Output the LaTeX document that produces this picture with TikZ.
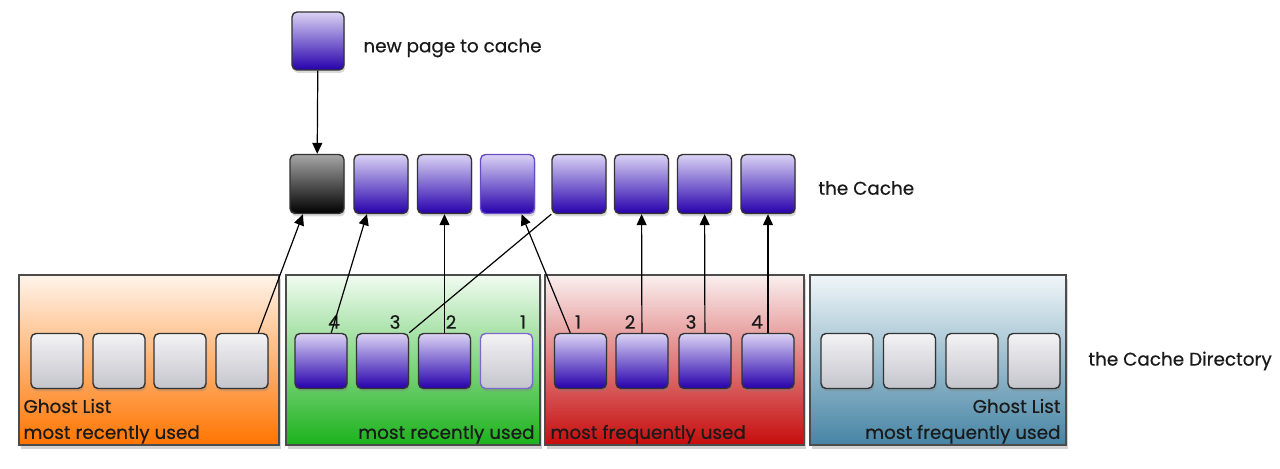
\documentclass[tikz,border=0pt]{standalone}
\usepackage{fontspec}
\setmainfont{Poppins}[FakeBold=0.5]
\usetikzlibrary{arrows.meta}
\usetikzlibrary{shadows}

\definecolor{pagetop}{HTML}{DAD3F4}
\definecolor{pagebot}{HTML}{2600AC}
\definecolor{ghosttop}{HTML}{F3F3F5}
\definecolor{ghostbot}{HTML}{C4C4CC}
\definecolor{orangetop}{HTML}{FFF4EA}
\definecolor{orangebot}{HTML}{FF7400}
\definecolor{greentop}{HTML}{F1FBF1}
\definecolor{greenbot}{HTML}{1CB21C}
\definecolor{redtop}{HTML}{FAEFEF}
\definecolor{redbot}{HTML}{C60C0C}
\definecolor{bluetop}{HTML}{F0F6F9}
\definecolor{bluebot}{HTML}{4684A4}
\definecolor{inkgray}{HTML}{1A1A1A}

\tikzset{
  cachepage/.style={draw=black!80, line width=0.7pt, rounded corners=2.5pt,
    minimum width=27pt, minimum height=29.5pt, inner sep=0pt,
    top color=pagetop, bottom color=pagebot,
    drop shadow={opacity=0.3, shadow xshift=0.6pt, shadow yshift=-1.5pt}},
  listpage/.style={cachepage, minimum width=26pt, minimum height=27.5pt},
  ghostpage/.style={listpage, top color=ghosttop, bottom color=ghostbot},
  listpanel/.style={draw=black!70, line width=0.9pt, inner sep=0pt,
    minimum width=129pt, minimum height=85pt,
    drop shadow={opacity=0.35, shadow xshift=1pt, shadow yshift=-2pt}},
  link/.style={line width=0.6pt, -{Triangle[length=5.5pt,width=5pt]}},
  listtext/.style={inner sep=0pt, text=inkgray},
}

\begin{document}
\begin{tikzpicture}[x=0.5pt,y=-0.5pt,font=\fontsize{9.2}{11}\selectfont]
\useasboundingbox (0,0) rectangle (1280,469);

    % Cache directory panels:
    \node [listpanel, minimum width=130pt, top color=orangetop, bottom color=orangebot] (ghostmru) at (149,360) {};
    \node [listpanel, minimum width=127pt, top color=greentop, bottom color=greenbot] (mru) at (413,360) {};
    \node [listpanel, minimum width=129.5pt, top color=redtop, bottom color=redbot] (mfu) at (674.5,360) {};
    \node [listpanel, minimum width=128pt, top color=bluetop, bottom color=bluebot] (ghostmfu) at (938,360) {};

    % Pages in the lists:
    \node [ghostpage] (gr1) at (57,361) {};
    \node [ghostpage] (gr2) at (119,361) {};
    \node [ghostpage] (gr3) at (180,361) {};
    \node [ghostpage] (gr4) at (242,361) {};
    \node [listpage] (t1) at (321,361) {};
    \node [listpage] (t2) at (382.5,361) {};
    \node [listpage] (t3) at (444.5,361) {};
    \node [ghostpage, draw=pagebot!60] (t4) at (506.5,361) {};
    \node [listpage] (f1) at (580.5,361) {};
    \node [listpage] (f2) at (642,361) {};
    \node [listpage] (f3) at (705,361) {};
    \node [listpage] (f4) at (768,361) {};
    \node [ghostpage] (gf1) at (847,361) {};
    \node [ghostpage] (gf2) at (909.5,361) {};
    \node [ghostpage] (gf3) at (972,361) {};
    \node [ghostpage] (gf4) at (1034,361) {};

    % The cache:
    \node [cachepage, top color=black!35, bottom color=black] (c1) at (317,184) {};
    \node [cachepage] (c2) at (381,184) {};
    \node [cachepage] (c3) at (444.5,184) {};
    \node [cachepage, draw=pagebot!70] (c4) at (507.5,184) {};
    \node [cachepage] (c5) at (579,184) {};
    \node [cachepage] (c6) at (641.5,184) {};
    \node [cachepage] (c7) at (704.5,184) {};
    \node [cachepage] (c8) at (768,184) {};

    % New page:
    \node [cachepage, minimum width=26pt, minimum height=29pt] (newpage) at (318,41) {};

    % Labels:
    \node [listtext, anchor=west] (newlabel) at (363,48) {new page to cache};
    \node [listtext, anchor=west] (cachelabel) at (818,188) {the Cache};
    \node [listtext, anchor=west] (dirlabel) at (1088,361) {the Cache Directory};

    \node [listtext, anchor=base west] (ghostmrutext) at ([xshift=2.5pt,yshift=3.5pt]ghostmru.south west) {most recently used};
    \node [listtext, anchor=base west] (ghostmrutitle) at ([yshift=13pt]ghostmrutext.base west) {Ghost List};
    \node [listtext, anchor=base east] (mrutext) at ([xshift=-3pt,yshift=3.5pt]mru.south east) {most recently used};
    \node [listtext, anchor=base west] (mfutext) at ([xshift=3pt,yshift=3.5pt]mfu.south west) {most frequently used};
    \node [listtext, anchor=base east] (ghostmfutext) at ([xshift=-3pt,yshift=3.5pt]ghostmfu.south east) {most frequently used};
    \node [listtext, anchor=base east] (ghostmfutitle) at ([yshift=13pt]ghostmfutext.base east) {Ghost List};

    % Positions in the lists:
    \node [listtext] (t1num) at (334,322) {4};
    \node [listtext] (t2num) at (395,322) {3};
    \node [listtext] (t3num) at (451,322) {2};
    \node [listtext] (t4num) at (523,322) {1};
    \node [listtext] (f1num) at (578,322) {1};
    \node [listtext] (f2num) at (630,322) {2};
    \node [listtext] (f3num) at (691,322) {3};
    \node [listtext] (f4num) at (757,322) {4};

    % Links:
    \draw [link] (newpage) -- (c1);
    \draw [link] (gr4.60) -- (c1.-115);
    \draw [link] (t1.70) -- (c2.-115);
    \draw [link] (t3) -- (c3);
    \draw [line width=0.6pt] (t2.north east) -- (c5.south west);
    \draw [link] (f1.110) -- (c4.-65);
    \draw [link] (f2) -- (c6);
    \draw [link] (f3) -- (c7);
    \draw [link] (f4) -- (c8);
\end{tikzpicture}
\end{document}
